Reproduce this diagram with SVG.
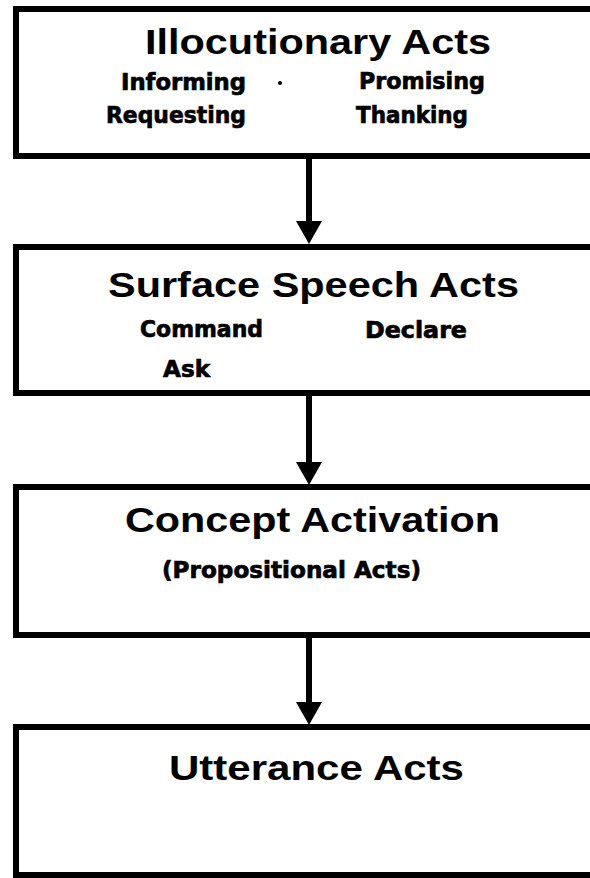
<svg xmlns="http://www.w3.org/2000/svg" width="590" height="878" viewBox="0 0 590 878">
<style>
.box{fill:#fff;stroke:#000;stroke-width:6}
.title{font-family:"Liberation Sans",Arial,sans-serif;font-weight:bold;font-size:35px;fill:#000}
.lbl{font-family:"DejaVu Sans","Liberation Sans",sans-serif;font-weight:bold;font-size:23px;fill:#000;stroke:#000;stroke-width:0.7}
.shaft{stroke:#000;stroke-width:6;fill:none}
.head{fill:#000}
</style>
<rect width="590" height="878" fill="#fff"/>
<g id="connectors">
<line class="shaft" x1="309" y1="156" x2="309" y2="225"/>
<polygon class="head" points="296,221 322,221 309,244"/>
<line class="shaft" x1="309" y1="393" x2="309" y2="466"/>
<polygon class="head" points="296,462 322,462 309,485"/>
<line class="shaft" x1="309" y1="635" x2="309" y2="706"/>
<polygon class="head" points="296,702 322,702 309,725"/>
</g>
<g id="illocutionary">
<rect class="box" x="16" y="9" width="590" height="147"/>
<text class="title" x="145" y="54" textLength="346" lengthAdjust="spacingAndGlyphs">Illocutionary Acts</text>
<text class="lbl" x="121" y="90" textLength="125" lengthAdjust="spacingAndGlyphs">Informing</text>
<circle cx="280" cy="83" r="2" fill="#000"/>
<text class="lbl" x="359" y="89" textLength="126" lengthAdjust="spacingAndGlyphs">Promising</text>
<text class="lbl" x="106" y="123" textLength="140" lengthAdjust="spacingAndGlyphs">Requesting</text>
<text class="lbl" x="356" y="123" textLength="112" lengthAdjust="spacingAndGlyphs">Thanking</text>
</g>
<g id="surface">
<rect class="box" x="16" y="247" width="590" height="146"/>
<text class="title" x="108" y="297" textLength="411" lengthAdjust="spacingAndGlyphs">Surface Speech Acts</text>
<text class="lbl" x="140" y="337" textLength="123" lengthAdjust="spacingAndGlyphs">Command</text>
<text class="lbl" x="365" y="338" textLength="102" lengthAdjust="spacingAndGlyphs">Declare</text>
<text class="lbl" x="163" y="377" textLength="47" lengthAdjust="spacingAndGlyphs">Ask</text>
</g>
<g id="concept">
<rect class="box" x="16" y="487" width="590" height="148"/>
<text class="title" x="125" y="532" textLength="375" lengthAdjust="spacingAndGlyphs">Concept Activation</text>
<text class="lbl" x="162" y="578" textLength="259" lengthAdjust="spacingAndGlyphs">(Propositional Acts)</text>
</g>
<g id="utterance">
<rect class="box" x="16" y="727" width="590" height="148"/>
<text class="title" x="169" y="780" textLength="295" lengthAdjust="spacingAndGlyphs">Utterance Acts</text>
</g>
</svg>
